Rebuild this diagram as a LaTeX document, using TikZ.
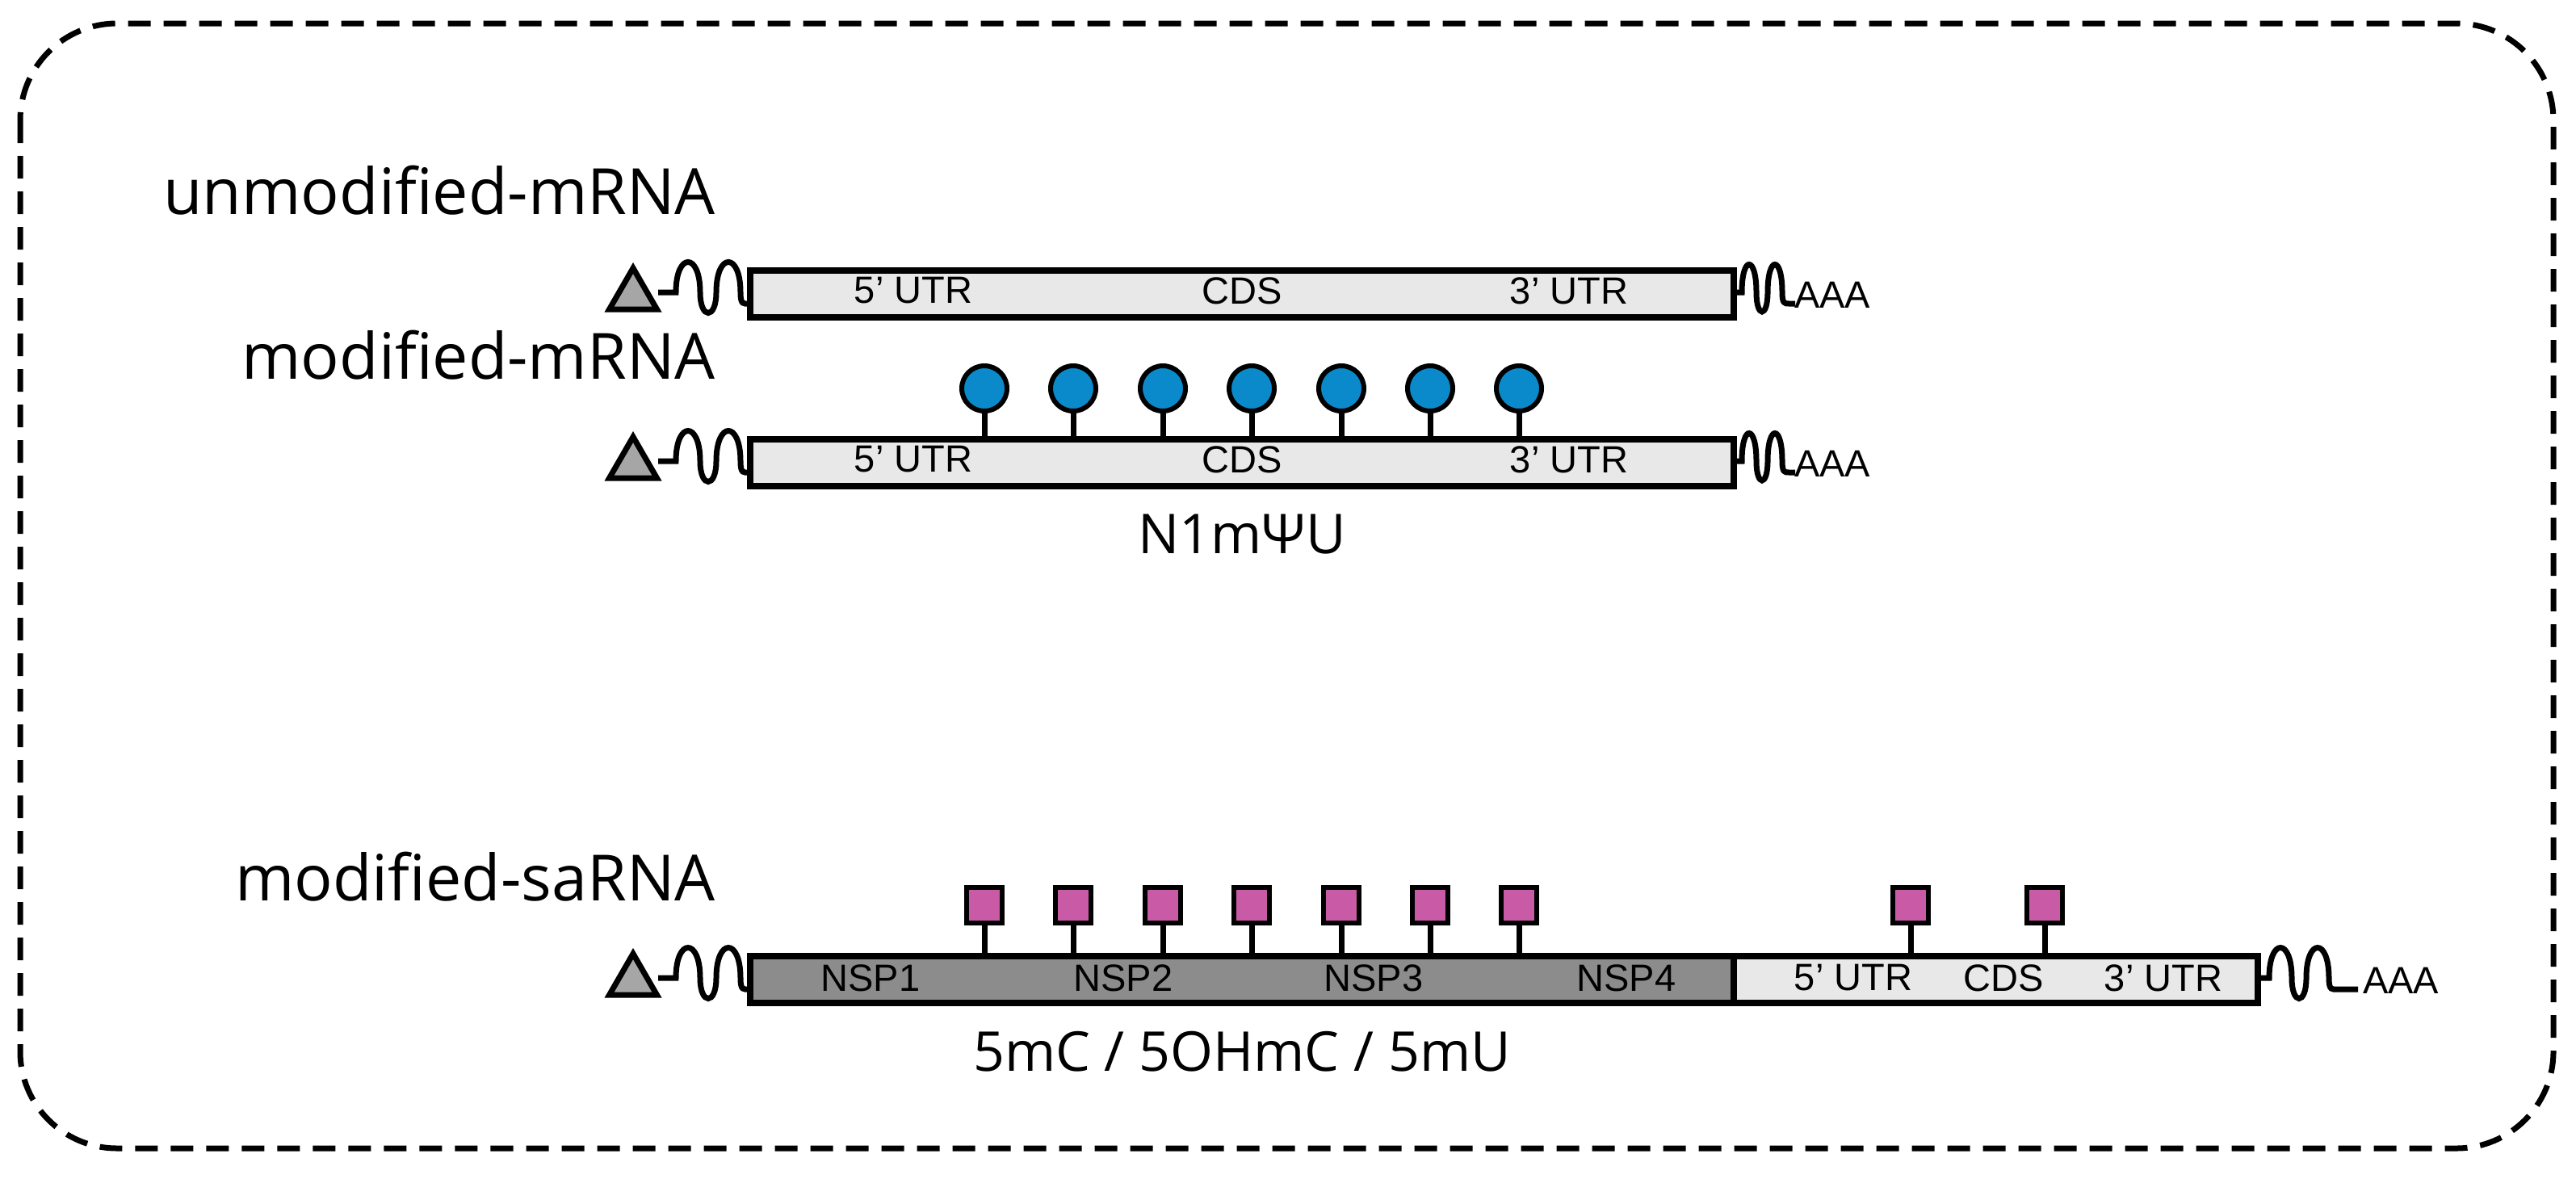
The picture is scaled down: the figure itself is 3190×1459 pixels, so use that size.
\documentclass[tikz,border=0pt]{standalone}
\usetikzlibrary{shapes.geometric}
\usepackage{fontspec}
\setmainfont{Liberation Sans}
\newfontfamily\headf{Open Sans}
\definecolor{lightbox}{HTML}{E8E8E8}
\definecolor{darkbox}{HTML}{8C8C8C}
\definecolor{capc}{HTML}{A6A6A6}
\definecolor{bluec}{HTML}{0A8ACB}
\definecolor{magc}{HTML}{C95AA6}
\begin{document}
\begin{tikzpicture}[x=1pt,y=-1pt,
  seg/.style={draw,line width=8pt,minimum height=58pt,inner sep=0pt,anchor=north west},
  lbl/.style={font=\fontsize{47}{50}\selectfont,inner sep=0pt},
  head/.style={font=\headf\fontsize{79}{84}\selectfont,inner sep=0pt,anchor=east},
  sub/.style={font=\headf\fontsize{68}{72}\selectfont,inner sep=0pt},
  ln/.style={line width=7pt},
  bead/.style={circle,draw,line width=6pt,fill=bluec,minimum size=56pt,inner sep=0pt},
  sq/.style={rectangle,draw,line width=6pt,fill=magc,minimum size=44pt,inner sep=0pt},
  capt/.style={regular polygon,regular polygon sides=3,draw,line width=7pt,fill=capc,minimum size=68pt,inner sep=0pt}]
\useasboundingbox (0,0) rectangle (3190,1459);
\draw[line width=7pt,dash pattern=on 28pt off 16pt,rounded corners=120pt] (25,29) rectangle (3162,1422);
% row 1
\node[head] (h1) at (886,236) {unmodified-mRNA};
\node[seg,fill=lightbox,minimum width=1218pt] (b1) at (925,331) {};
\node[lbl] (l11) at (1131,360) {5’ UTR};
\node[lbl] (l12) at (1538,360) {CDS};
\node[lbl] (l13) at (1943,360) {3’ UTR};
\node[capt] (c1) at (784,366) {};
% row 2
\node[head] (h2) at (886,440) {modified-mRNA};
\node[seg,fill=lightbox,minimum width=1218pt] (b2) at (925,540) {};
\node[lbl] (l21) at (1131,569) {5’ UTR};
\node[lbl] (l22) at (1538,569) {CDS};
\node[lbl] (l23) at (1943,569) {3’ UTR};
\node[capt] (c2) at (784,575) {};
\node[sub] (n2) at (1538,662) {N1mΨU};
\foreach \i/\x in {1/1219,2/1329,3/1440,4/1550,5/1661,6/1771,7/1881}{
  \node[bead] (p\i) at (\x,481) {};
  \coordinate (q\i) at (\x,540);
  \draw[ln] (p\i.south) -- (q\i);
}
% row 3
\node[head] (h3) at (886,1086) {modified-saRNA};
\node[seg,fill=darkbox,minimum width=1218pt] (b3) at (925,1180) {};
\node[seg,fill=lightbox,minimum width=649pt] (b4) at (2143,1180) {};
\node[lbl] (l31) at (1078,1211) {NSP1};
\node[lbl] (l32) at (1391,1211) {NSP2};
\node[lbl] (l33) at (1701,1211) {NSP3};
\node[lbl] (l34) at (2014,1211) {NSP4};
\node[lbl] (l35) at (2295,1211) {5’ UTR};
\node[lbl] (l36) at (2481,1211) {CDS};
\node[lbl] (l37) at (2679,1211) {3’ UTR};
\node[capt] (c3) at (784,1215) {};
\node[sub] (n3) at (1538,1302) {5mC / 5OHmC / 5mU};
\foreach \i/\x in {1/1219,2/1329,3/1440,4/1550,5/1661,6/1771,7/1881,8/2366,9/2532}{
  \node[sq] (s\i) at (\x,1121) {};
  \coordinate (t\i) at (\x,1180);
  \draw[ln] (s\i.south) -- (t\i);
}
% waves and tails
\foreach \y in {362,571,1211}{
  \draw[ln] (815,\y) -- ++(22,0) .. controls ++(0,-50) and ++(0,-50) .. ++(30,0) .. controls ++(0,34) and ++(0,34) .. ++(20,0) .. controls ++(0,-50) and ++(0,-50) .. ++(30,0) .. controls ++(0,16) and ++(-6,0) .. ++(10,14) -- (925,\y+14);
}
\foreach \y/\x in {362/2147,571/2147}{
  \draw[ln] (\x,\y) -- ++(10,0) .. controls ++(0,-46) and ++(0,-46) .. ++(18,0) .. controls ++(0,32) and ++(0,32) .. ++(14,0) .. controls ++(0,-46) and ++(0,-46) .. ++(18,0) .. controls ++(0,14) and ++(-5,0) .. ++(8,14) -- ++(8,0);
}
\draw[ln] (2796,1211) -- ++(14,0) .. controls ++(0,-50) and ++(0,-50) .. ++(28,0) .. controls ++(0,34) and ++(0,34) .. ++(18,0) .. controls ++(0,-50) and ++(0,-50) .. ++(28,0) .. controls ++(0,16) and ++(-6,0) .. ++(10,14) -- ++(26,0);
\node[lbl,anchor=west] (a1) at (2222,365) {AAA};
\node[lbl,anchor=west] (a2) at (2222,574) {AAA};
\node[lbl,anchor=west] (a3) at (2926,1214) {AAA};
\end{tikzpicture}
\end{document}
